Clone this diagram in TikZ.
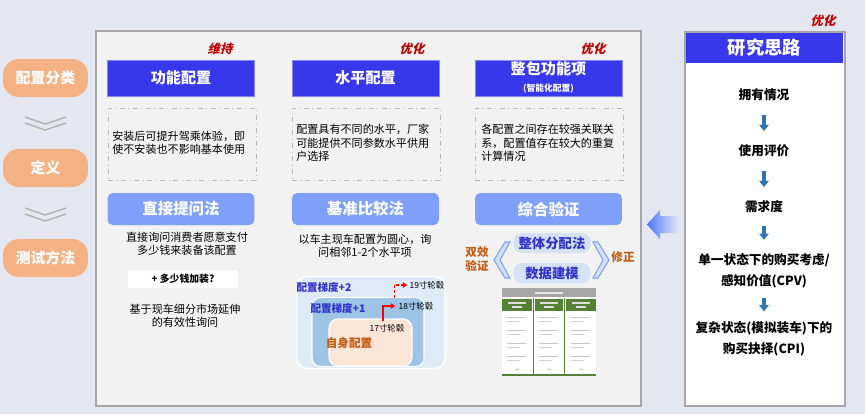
\documentclass[tikz,border=0pt]{standalone}
\usepackage{fontspec}
\setmainfont{Noto Sans CJK SC}
\newfontfamily\slantcjk[FakeSlant=0.25]{Noto Sans CJK SC}
\usetikzlibrary{arrows.meta}

\definecolor{pagebg}{HTML}{E4E7F0}
\definecolor{panelbg}{HTML}{F2F2F2}
\definecolor{panelline}{HTML}{A6A6A6}
\definecolor{headblue}{HTML}{3737EC}
\definecolor{methblue}{HTML}{7FA0FA}
\definecolor{pillorange}{HTML}{F4B183}
\definecolor{markred}{HTML}{C00000}
\definecolor{txtorange}{HTML}{C55A11}
\definecolor{darkblue}{HTML}{3333CC}
\definecolor{stepblue}{HTML}{2E75B6}
\definecolor{ringout}{HTML}{DEEBF7}
\definecolor{ringmid}{HTML}{9DC3E6}
\definecolor{ringin}{HTML}{FBE5D6}
\definecolor{pillblue}{HTML}{D3E2F4}
\definecolor{tblgreen}{HTML}{548235}
\definecolor{bigarrow}{HTML}{4D78FA}

\begin{document}
\begin{tikzpicture}[x=0.02cm,y=-0.02cm,
    every node/.style={inner sep=0pt, font=\fontsize{6.3}{7.6}\selectfont},
    catpill/.style={rounded corners=9pt, fill=pillorange, text=white, minimum width=1.7cm, minimum height=0.76cm, font=\fontsize{8.4}{10}\selectfont\bfseries},
    colhead/.style={fill=headblue, draw=headblue!60!white, text=white, minimum width=2.94cm, minimum height=0.72cm, font=\fontsize{8.6}{10}\selectfont\bfseries},
    descbox/.style={draw=gray!55, dash dot, minimum width=2.96cm, minimum height=1.44cm},
    methbox/.style={fill=methblue, rounded corners=3pt, text=white, minimum width=2.94cm, minimum height=0.64cm, font=\fontsize{8.8}{10}\selectfont\bfseries},
    keep/.style={text=markred, font=\fontsize{7}{8}\selectfont\bfseries\slantcjk},
    subpill/.style={fill=pillblue, rounded corners=5pt, text=darkblue, minimum width=1.54cm, minimum height=0.4cm, font=\fontsize{7.6}{9}\selectfont\bfseries},
    stepitem/.style={align=center, font=\fontsize{7.2}{12}\selectfont\bfseries},
    flowarr/.style={draw=stepblue, line width=2.2pt, -{Triangle[width=5.4pt,length=3.6pt]}, shorten <=#1, shorten >=#1},
    flowarr/.default=0.27cm,
    wheel/.style={font=\fontsize{4.8}{5}\selectfont}]

    % background and panels
    \fill[pagebg] (0,0) rectangle (865,414);
    \draw[panelline, fill=panelbg, line width=0.8pt] (96,31) rectangle (641,406);
    \draw[panelline, fill=white, line width=0.8pt] (685,32) rectangle (845,406);

    % left categories
    \node (cls) [catpill] at (45.5,78) {配置分类};
    \node (defn) [catpill] at (45.5,168) {定义};
    \node (test) [catpill] at (45.5,258) {测试方法};
    \draw[gray!60, line width=0.8pt] (25,117) -- (45,124) -- (66,117);
    \draw[gray!60, line width=0.8pt] (25,123) -- (45,130) -- (66,123);
    \draw[gray!60, line width=0.8pt] (25,208) -- (45,215) -- (66,208);
    \draw[gray!60, line width=0.8pt] (25,214) -- (45,221) -- (66,214);

    % column 1
    \node (keep1) [keep] at (220,49) {维持};
    \node (func) [colhead] at (181,78) {功能配置};
    \node (desc1) [descbox] at (182,144) {};
    \node (desctxt1) [anchor=west, align=left] at (112,143) {安装后可提升驾乘体验，即\\使不安装也不影响基本使用};
    \node (ask) [methbox] at (181,209) {直接提问法};
    \node (asktxt) [align=center] at (187,244) {直接询问消费者愿意支付\\多少钱来装备该配置};
    \node (addbox) [fill=white, minimum width=2.2cm, minimum height=0.36cm, font=\fontsize{5.6}{6}\selectfont\bfseries] at (183,279) {+ 多少钱加装?};
    \node (basetxt) [align=center] at (185,316) {基于现车细分市场延伸\\的有效性询问};

    % column 2
    \node (opt2) [keep] at (412,49) {优化};
    \node (level) [colhead] at (365.5,78) {水平配置};
    \node (desc2) [descbox] at (366,144) {};
    \node (desctxt2) [anchor=west, align=left] at (296,143) {配置具有不同的水平，厂家\\可能提供不同参数水平供用\\户选择};
    \node (bench) [methbox] at (365.5,209) {基准比较法};
    \node (benchtxt) [align=center] at (365,246) {以车主现车配置为圆心，询\\问相邻1-2个水平项};
    \node (ring2) [fill=ringout, draw=white, line width=0.8pt, rounded corners=6pt, minimum width=2.96cm, minimum height=1.84cm] at (371,322.5) {};
    \node (ring1) [fill=ringmid, draw=white, line width=0.6pt, rounded corners=5pt, minimum width=2.24cm, minimum height=1.38cm] at (368,332) {};
    \node (ring0) [fill=ringin, draw=white, line width=0.6pt, rounded corners=5pt, minimum width=1.66cm, minimum height=0.94cm] at (370.5,342.5) {};
    \node (lbl2) [text=darkblue, font=\fontsize{6}{7}\selectfont\bfseries] at (324,287) {配置梯度+2};
    \node (lbl1) [text=darkblue, font=\fontsize{6}{7}\selectfont\bfseries] at (338,308) {配置梯度+1};
    \node (lbl0) [text=txtorange, font=\fontsize{6.6}{7}\selectfont\bfseries] at (349,343) {自身配置};
    \node (w17) [wheel] at (387,328) {17寸轮毂};
    \node (w18) [wheel] at (416,306) {18寸轮毂};
    \node (w19) [wheel] at (427,285) {19寸轮毂};
    \draw[red, line width=0.9pt, -{Triangle[width=3pt,length=2.5pt]}] ([xshift=-0.08cm,yshift=0.05cm]w17.north) |- ([xshift=-0.06cm]w18.west);
    \draw[red, line width=0.9pt, dash pattern=on 1.6pt off 1.2pt, -{Triangle[width=3pt,length=2.5pt]}] ([xshift=-0.08cm,yshift=0.08cm]w18.north west) |- ([xshift=-0.04cm]w19.west);

    % column 3
    \node (opt3) [keep] at (593,49) {优化};
    \node (bundle) [colhead, align=center] at (548.5,78) {};
    \node (bundletxt) [text=white, font=\fontsize{8.6}{10}\selectfont\bfseries] at (548.5,69) {整包功能项};
    \node (bundlesub) [text=white, font=\fontsize{5}{6}\selectfont\bfseries] at (548.5,89) {(智能化配置)};
    \node (desc3) [descbox] at (549,144) {};
    \node (desctxt3) [anchor=west, align=left] at (481,143) {各配置之间存在较强关联关\\系，配置值存在较大的重复\\计算情况};
    \node (verify) [methbox] at (548.5,209) {综合验证};
    \node (alloc) [subpill] at (552,243) {整体分配法};
    \node (model) [subpill] at (552,273) {数据建模};
    \draw[methblue, fill=pillblue, line width=0.6pt] (510,242) -- (500,260) -- (510,278) -- (505,278) -- (494,260) -- (505,242) -- cycle;
    \draw[methblue, fill=pillblue, line width=0.6pt] (593,242) -- (603,260) -- (593,278) -- (598,278) -- (609,260) -- (598,242) -- cycle;
    \node (dual) [text=txtorange, align=center, font=\fontsize{6.6}{8}\selectfont\bfseries] at (477,259) {双效\\验证};
    \node (fix) [text=txtorange, font=\fontsize{6.6}{8}\selectfont\bfseries] at (623,257) {修正};

    % small table
    \fill[white] (502,288) rectangle (596,375);
    \fill[gray!70] (502,288) rectangle (596,297);
    \fill[white!80!gray] (535,292) rectangle (563,293.5);
    \fill[tblgreen] (502,298.5) rectangle (532,311);
    \fill[tblgreen] (535,298.5) rectangle (563,311);
    \fill[tblgreen] (566,298.5) rectangle (596,311);
    \draw[tblgreen, line width=0.6pt] (533.5,298) -- (533.5,375);
    \draw[tblgreen, line width=0.6pt] (564.5,298) -- (564.5,375);
    \draw[tblgreen, line width=0.9pt] (502,375) -- (596,375);
    \foreach \cx in {517,549,581} {
        \fill[white!75!gray] (\cx-9,302) rectangle (\cx+9,303.5);
        \fill[white!75!gray] (\cx-5,306) rectangle (\cx+5,307.5);
        \foreach \ry in {317,330,343,356} {
            \fill[gray!45] (\cx-10,\ry) rectangle (\cx+9,\ry+1.2);
            \fill[gray!35] (\cx-10,\ry+4) rectangle (\cx+3,\ry+5.2);
        }
        \fill[gray!50] (\cx-2,369) rectangle (\cx+2,370);
    }

    % big arrow towards the main panel
    \shade[left color=bigarrow, right color=pagebg] (647,224.5) -- (660,210) -- (660,216) -- (679,216) -- (679,233) -- (660,233) -- (660,239) -- cycle;

    % research steps
    \node (optr) [keep] at (823,21) {优化};
    \node (route) [fill=headblue, text=white, minimum width=3.14cm, minimum height=0.6cm, font=\fontsize{10.4}{12}\selectfont\bfseries] at (764.5,48) {研究思路};
    \node (own) [stepitem] at (764,95) {拥有情况};
    \node (use) [stepitem] at (764,151) {使用评价};
    \node (need) [stepitem] at (764,207) {需求度};
    \node (cpv) [stepitem] at (764,270.5) {单一状态下的购买考虑/\\感知价值(CPV)};
    \node (cpi) [stepitem] at (764,339) {复杂状态(模拟装车)下的\\购买抉择(CPI)};
    \draw[flowarr] (own) -- (use);
    \draw[flowarr] (use) -- (need);
    \draw[flowarr=0.26cm] (need) -- (cpv);
    \draw[flowarr=0.2cm] (cpv) -- (cpi);
\end{tikzpicture}
\end{document}
